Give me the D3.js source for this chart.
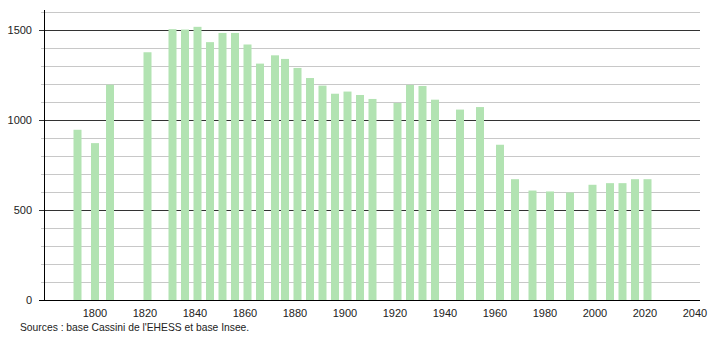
<!DOCTYPE html>
<html>
<head>
<meta charset="utf-8">
<script src="https://cdn.jsdelivr.net/npm/d3@7"></script>
<style>
  body { margin: 0; background: #fff; }
  text { font-family: "Liberation Sans", Arial, sans-serif; font-size: 11px; fill: #222; }
</style>
</head>
<body>
<div id="chart"></div>
<script>
var years = [1793, 1800, 1806, 1821, 1831, 1836, 1841, 1846, 1851, 1856,
             1861, 1866, 1872, 1876, 1881, 1886, 1891, 1896, 1901, 1906,
             1911, 1921, 1926, 1931, 1936, 1946, 1954, 1962, 1968, 1975,
             1982, 1990, 1999, 2006, 2011, 2016, 2021];
var population = [944, 870, 1194, 1374, 1502, 1500, 1515, 1430, 1481, 1481,
                  1417, 1311, 1357, 1337, 1287, 1231, 1189, 1144, 1156, 1137,
                  1115, 1093, 1193, 1187, 1111, 1056, 1070, 861, 670, 607,
                  602, 596, 639, 648, 648, 670, 670];
var xTicks = [1800, 1820, 1840, 1860, 1880, 1900, 1920, 1940, 1960, 1980, 2000, 2020, 2040];
var yTicks = [0, 500, 1000, 1500];
var source = "Sources : base Cassini de l'EHESS et base Insee.";

function init() {
    var w = 710;
    var h = 340;

    var x = d3.scaleLinear().domain([1779.6, 2042]).range([44, 700]);
    var y = d3.scaleLinear().domain([0, 1600]).range([300, 11.5]);

    var svg = d3.select("#chart")
                .append("svg")
                .attr("width", w)
                .attr("height", h);

    // minor grid every 100
    svg.append("g")
        .selectAll("line")
        .data(d3.range(100, 1700, 100).filter(function(d) { return d % 500 != 0; }))
        .enter()
        .append("line")
        .attr("x1", 41)
        .attr("x2", 700)
        .attr("y1", function(d) { return Math.round(y(d)) + 0.5; })
        .attr("y2", function(d) { return Math.round(y(d)) + 0.5; })
        .attr("stroke", "#c8c8c8");

    // major grid every 500
    svg.append("g")
        .selectAll("line")
        .data([500, 1000, 1500])
        .enter()
        .append("line")
        .attr("x1", 39)
        .attr("x2", 700)
        .attr("y1", function(d) { return Math.round(y(d)) + 0.5; })
        .attr("y2", function(d) { return Math.round(y(d)) + 0.5; })
        .attr("stroke", "#333");

    // bars
    svg.append("g")
        .selectAll("rect")
        .data(years)
        .enter()
        .append("rect")
        .attr("x", function(d) { return x(d) - 4; })
        .attr("width", 8)
        .attr("y", function(d, i) { return y(population[i]); })
        .attr("height", function(d, i) { return y(0) - y(population[i]); })
        .attr("fill", "#b2e3b2");

    // axis lines
    svg.append("line")
        .attr("x1", 44.5).attr("x2", 44.5)
        .attr("y1", 10).attr("y2", 300)
        .attr("stroke", "#000");

    svg.append("line")
        .attr("x1", 39).attr("x2", 700)
        .attr("y1", 300.5).attr("y2", 300.5)
        .attr("stroke", "#000");

    // y labels
    svg.append("g")
        .selectAll("text")
        .data(yTicks)
        .enter()
        .append("text")
        .attr("x", 32)
        .attr("y", function(d) { return y(d) + 4; })
        .attr("text-anchor", "end")
        .text(function(d) { return d; });

    // x labels
    svg.append("g")
        .selectAll("text")
        .data(xTicks)
        .enter()
        .append("text")
        .attr("x", function(d) { return x(d); })
        .attr("y", 317)
        .attr("text-anchor", "middle")
        .text(function(d) { return d; });

    svg.append("text")
        .attr("x", 20)
        .attr("y", 331)
        .style("font-size", "10.3px")
        .text(source);
}

window.onload = init;
</script>
</body>
</html>
